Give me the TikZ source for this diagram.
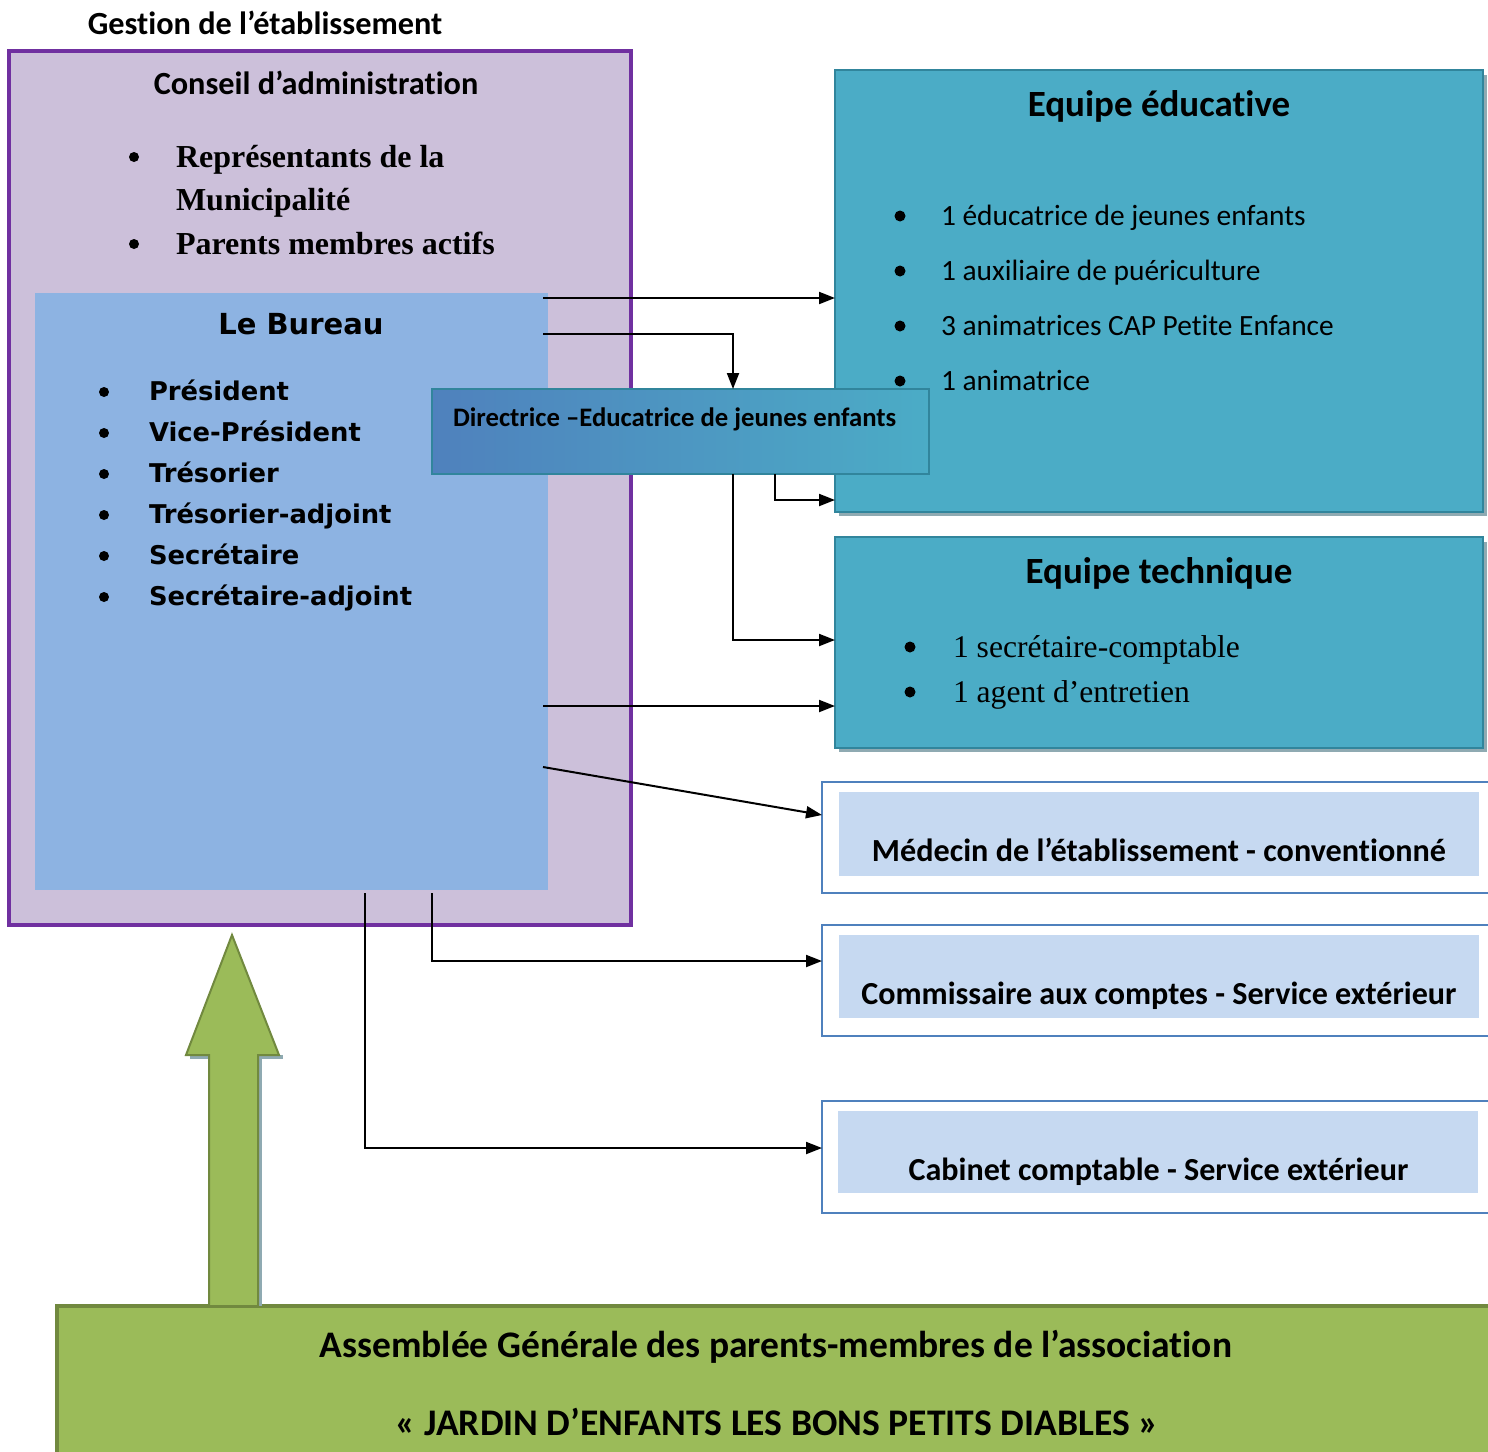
\documentclass[tikz,border=0pt]{standalone}
\usepackage{fontspec}
\setmainfont{Carlito}[Ligatures=NoCommon]
\newfontfamily\tms{Liberation Serif}
\newfontfamily\verd{DejaVu Sans}
\usetikzlibrary{arrows.meta,calc}
\definecolor{lav}{HTML}{CCC0DA}
\definecolor{purp}{HTML}{7030A0}
\definecolor{bur}{HTML}{8DB3E2}
\definecolor{teal}{HTML}{4BACC6}
\definecolor{tealdk}{HTML}{31859C}
\definecolor{shad}{HTML}{8FAAB2}
\definecolor{lblue}{HTML}{C6D9F1}
\definecolor{mblue}{HTML}{4F81BD}
\definecolor{grn}{HTML}{9BBB59}
\definecolor{grndk}{HTML}{71893F}
\begin{document}
\begin{tikzpicture}[x=1pt,y=-1pt,
  box/.style={inner sep=0pt, outer sep=0pt},
  tx/.style={inner sep=0pt, outer sep=0pt, text=black},
  arr/.style={line width=2pt, -{Triangle[length=16pt,width=12pt]}},
  bul/.style={fill=black}]
\useasboundingbox (0,0) rectangle (1488,1451);
\clip (0,0) rectangle (1488,1451);

% title
\node[tx, anchor=base] (gest) at (265,34) {\fontsize{32.3}{38}\selectfont\bfseries Gestion de l’établissement};

% conseil d'administration
\node[box, fill=lav, draw=purp, line width=3.5pt, minimum width=622pt, minimum height=874pt] (ca) at (320,488) {};
\node[tx, anchor=base] (cat) at (316,94) {\fontsize{32.3}{38}\selectfont\bfseries Conseil d’administration};
\fill[bul] (134,157) circle (5);
\fill[bul] (134,244) circle (5);
\node[tx, anchor=base west] (r1) at (176,167) {\tms\fontsize{32}{38}\selectfont\bfseries Représentants de la};
\node[tx, anchor=base west] (r2) at (176,210) {\tms\fontsize{32}{38}\selectfont\bfseries Municipalité};
\node[tx, anchor=base west] (r3) at (176,254) {\tms\fontsize{32}{38}\selectfont\bfseries Parents membres actifs};

% bureau
\node[box, fill=bur, minimum width=513pt, minimum height=597pt] (bu) at (291.5,591.5) {};
\node[tx, anchor=base] (but) at (301,334.5) {\verd\fontsize{29}{34}\selectfont\bfseries Le Bureau};
\foreach \y/\t [count=\i] in {391/Président, 432/Vice-Président, 473/Trésorier, 514/Trésorier-adjoint, 555/Secrétaire, 596/Secrétaire-adjoint}{
  \fill[bul] (104,\y+1) circle (5);
  \node[tx, anchor=base west] (bi\i) at (149,\y+9) {\verd\fontsize{25.8}{30}\selectfont\bfseries \t};
}

% equipe educative
\fill[shad] (839,75) rectangle (1487,516);
\node[box, fill=teal, draw=tealdk, line width=1.5pt, minimum width=648pt, minimum height=442pt] (edu) at (1159,291) {};
\node[tx, anchor=base] (edut) at (1159,116) {\fontsize{37}{44}\selectfont\bfseries Equipe éducative};
\foreach \y/\t [count=\i] in {216/1 éducatrice de jeunes enfants, 271/1 auxiliaire de puériculture, 326/3 animatrices CAP Petite Enfance, 381/1 animatrice}{
  \fill[bul] (900,\y) circle (5.5);
  \node[tx, anchor=base west] (ei\i) at (941,\y+9) {\fontsize{29.4}{34}\selectfont \t};
}

% equipe technique
\fill[shad] (839,542) rectangle (1487,752);
\node[box, fill=teal, draw=tealdk, line width=1.5pt, minimum width=648pt, minimum height=211pt] (tec) at (1159,642.5) {};
\node[tx, anchor=base] (tect) at (1159,583) {\fontsize{37}{44}\selectfont\bfseries Equipe technique};
\fill[bul] (910,647) circle (5.5);
\fill[bul] (910,692) circle (5.5);
\node[tx, anchor=base west] (ti1) at (953,657) {\tms\fontsize{31.6}{37}\selectfont 1 secrétaire-comptable};
\node[tx, anchor=base west] (ti2) at (953,702) {\tms\fontsize{31.6}{37}\selectfont 1 agent d’entretien};

% directrice
\node[box, left color=mblue, right color=teal, draw=tealdk, line width=1.5pt, minimum width=497pt, minimum height=85pt] (dir) at (680.5,431.5) {};
\node[tx, anchor=base west] (dirt) at (453,426) {\fontsize{26.7}{32}\selectfont\bfseries Directrice –Educatrice de jeunes enfants};

% external boxes
\node[box, fill=white, draw=mblue, line width=2pt, minimum width=673pt, minimum height=111pt] (med) at (1158.5,837.5) {};
\node[box, fill=lblue, minimum width=640pt, minimum height=84pt] (medi) at (1159,834) {};
\node[tx, anchor=base] (medt) at (1159,861) {\fontsize{32.2}{38}\selectfont\bfseries Médecin de l’établissement - conventionné};

\node[box, fill=white, draw=mblue, line width=2pt, minimum width=673pt, minimum height=111pt] (com) at (1158.5,980.5) {};
\node[box, fill=lblue, minimum width=640pt, minimum height=83pt] (comi) at (1159,976.5) {};
\node[tx, anchor=base] (comt) at (1159,1004) {\fontsize{32.1}{38}\selectfont\bfseries Commissaire aux comptes - Service extérieur};

\node[box, fill=white, draw=mblue, line width=2pt, minimum width=673pt, minimum height=112pt] (cab) at (1158.5,1157) {};
\node[box, fill=lblue, minimum width=640pt, minimum height=82pt] (cabi) at (1158,1152) {};
\node[tx, anchor=base] (cabt) at (1158.5,1180) {\fontsize{32.1}{38}\selectfont\bfseries Cabinet comptable - Service extérieur};

% assemblee generale
\node[box, fill=grn, draw=grndk, line width=4pt, minimum width=1443pt, minimum height=164pt] (ag) at (778.5,1388) {};
\node[tx, anchor=base] (ag1) at (776,1357) {\fontsize{37.5}{44}\selectfont\bfseries Assemblée Générale des parents-membres de l’association};
\node[tx, anchor=base] (ag2) at (777,1435) {\fontsize{37.6}{44}\selectfont\bfseries « JARDIN D’ENFANTS LES BONS PETITS DIABLES »};

% big green arrow
\fill[shad] (190,1055) rectangle (283,1059);
\fill[shad] (258,1055) rectangle (262,1306);
\draw[fill=grn, draw=grndk, line width=2pt, line join=miter]
  (232,935) -- (279,1055) -- (258,1055) -- (258,1306) -- (209,1306) -- (209,1055) -- (186,1055) -- cycle;

% connectors
\coordinate (s1) at (543,298);
\coordinate (s2) at (543,334);
\coordinate (s5) at (543,706);
\coordinate (s6) at (543,767);
\coordinate (s7) at (432,893);
\coordinate (s8) at (365,893);
\draw[arr] (s1) -- (s1 -| edu.west);
\draw[arr] (s2) -| (733,0 |- dir.north);
\draw[arr] (775,0 |- dir.south) |- (edu.west |- 0,500);
\draw[arr] (733,0 |- dir.south) |- (tec.west |- 0,640);
\draw[arr] (s5) -- (s5 -| tec.west);
\draw[arr] (s6) -- (med.west |- 0,815);
\draw[arr] (s7) |- (com.west |- 0,961);
\draw[arr] (s8) |- (cab.west |- 0,1148);
\end{tikzpicture}
\end{document}
